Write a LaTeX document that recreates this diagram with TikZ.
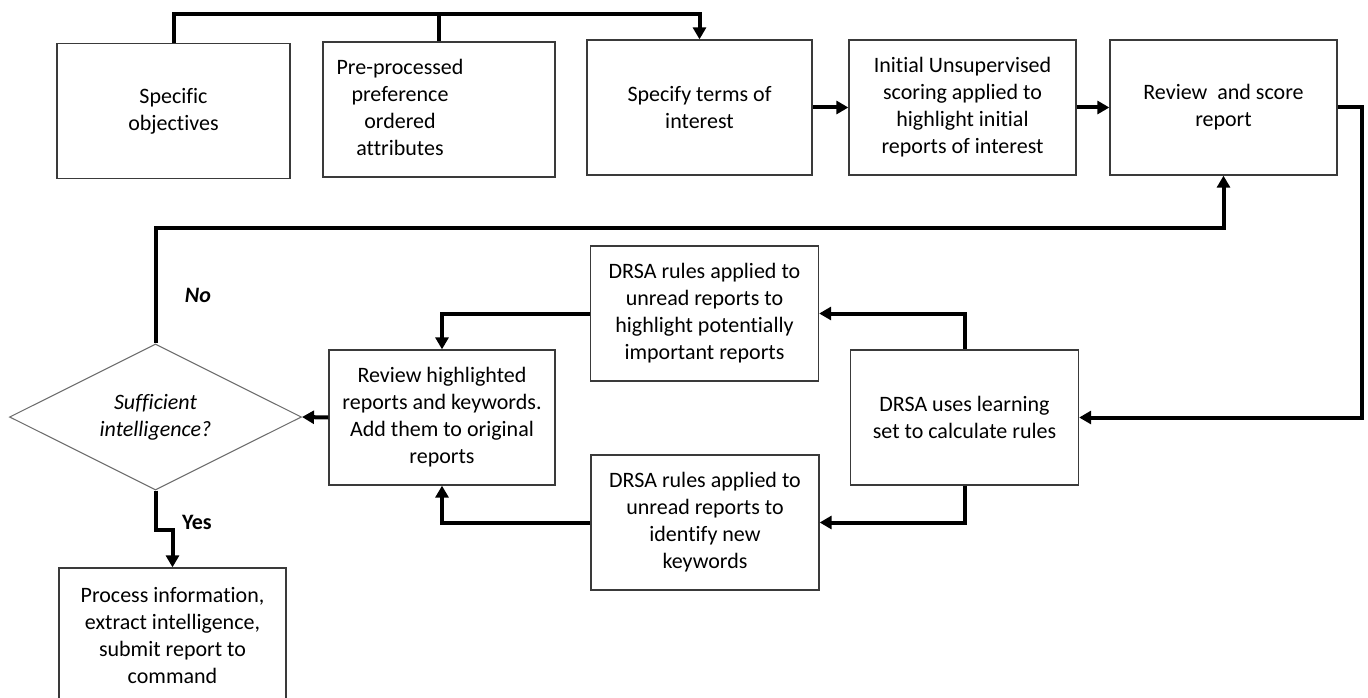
\documentclass[tikz,border=0pt]{standalone}
\usepackage{fontspec}
\setmainfont{Carlito}[Ligatures=NoCommon]
\usetikzlibrary{arrows.meta,shapes.geometric}
\definecolor{boxgray}{HTML}{3A3A3A}
\definecolor{diagray}{HTML}{707070}
\begin{document}
\begin{tikzpicture}[x=1pt,y=-1pt,
  txt/.style={align=center, inner sep=0pt, font=\fontsize{22}{27}\selectfont},
  box/.style={txt, draw=boxgray, line width=1.3pt, minimum width=#1, minimum height=135pt},
  box/.default=228pt,
  flow/.style={line width=4pt, line join=miter, draw=black},
  arr/.style={flow, -{Triangle[length=12pt,width=13pt]}},
  lbl/.style={inner sep=0pt, font=\fontsize{22}{27}\selectfont\bfseries}]
\useasboundingbox (0,0) rectangle (1368,698);
\clip (0,0) rectangle (1368,698);

% top row
\node[box=233pt] (b1) at (173.5,111) {Specific\\objectives};
\node[box=232pt] (b2) at (439,109.5) {};
\node[txt] (b2txt) at (400,107) {Pre-processed\\preference\\ordered\\attributes};
\node[box=225pt] (b3) at (699.5,107.5) {Specify terms of\\interest};
\node[box=227pt] (b4) at (962.5,107.5) {Initial Unsupervised\\scoring applied to\\highlight initial\\reports of interest};
\node[box=227pt] (b5) at (1223.5,107.5) {Review\ \ and score\\report};

% DRSA loop
\node[box] (learn) at (964.5,417.5) {DRSA uses learning\\set to calculate rules};
\node[box] (dtop) at (704.5,313.5) {DRSA rules applied to\\unread reports to\\highlight potentially\\important reports};
\node[box] (dbot) at (705,522.5) {DRSA rules applied to\\unread reports to\\identify new\\keywords};
\node[box=226pt] (rev) at (442,417.5) {Review highlighted\\reports and keywords.\\Add them to original\\reports};

% decision and outcome
\node[diamond, draw=diagray, line width=1.1pt, aspect=2, inner sep=0pt,
      minimum width=292pt, minimum height=146pt,
      align=center, font=\fontsize{22}{27}\selectfont\itshape] (dec) at (155.5,417) {Sufficient\\intelligence?};
\node[box=227pt] (out) at (172.5,635.5) {Process information,\\extract intelligence,\\submit report to\\command};

% routing coordinates
\coordinate (topy) at (0,14);
\coordinate (rx) at (1362,0);
\coordinate (noy) at (0,228);
\coordinate (yesy) at (0,530);

% connectors
\draw[arr] (b1.north) -- (b1.north |- topy) -- (b3.north |- topy) -- (b3.north);
\draw[flow] (b2.north) -- (b2.north |- topy);
\draw[arr] (b3.east) -- (b4.west);
\draw[arr] (b4.east) -- (b5.west);
\draw[arr] (b5.east) -- (rx |- b5.east) -- (rx |- learn.east) -- (learn.east);
\draw[arr] (learn.north) |- (dtop.east);
\draw[arr] (learn.south) |- (dbot.east);
\draw[arr] (dtop.west) -| (rev.north);
\draw[arr] (dbot.west) -| (rev.south);
\draw[arr] (rev.west) -- (dec.east);
\draw[arr] (dec.north) -- (dec.north |- noy) -- (b5.south |- noy) -- (b5.south);
\draw[arr] (dec.south) -- (dec.south |- yesy) -- (out.north |- yesy) -- (out.north);

% branch labels
\node[lbl, font=\fontsize{22}{27}\selectfont\bfseries\itshape] (nolbl) at (198,295) {No};
\node[lbl] (yeslbl) at (197,522) {Yes};
\end{tikzpicture}
\end{document}
